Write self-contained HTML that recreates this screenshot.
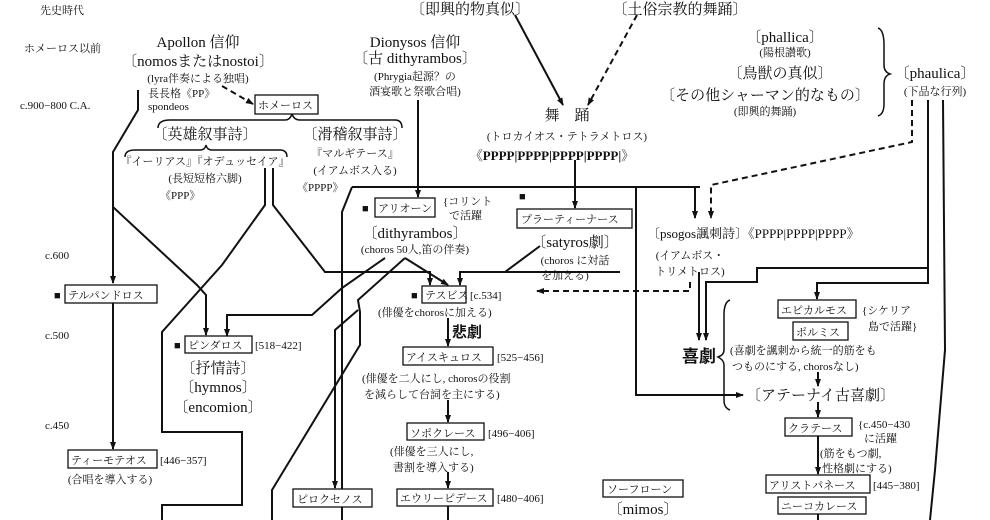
<!DOCTYPE html>
<html><head><meta charset="utf-8"><style>
body{margin:0;background:#fff}
svg{display:block}
text{font-family:"Liberation Serif","Noto Serif CJK SC","Noto Sans CJK JP",serif;fill:#111}
.s{font-size:11px}.m{font-size:13px}.l{font-size:15px}
.b{font-weight:bold;font-family:"Liberation Sans","Noto Sans CJK JP",sans-serif}
</style></head><body>
<svg width="990" height="520" viewBox="0 0 990 520" xmlns="http://www.w3.org/2000/svg">
<defs><marker id="a" markerWidth="8" markerHeight="8" refX="7" refY="4" orient="auto" markerUnits="userSpaceOnUse"><path d="M0,1 L8,4 L0,7z" fill="#111"/></marker></defs>
<g fill="none" stroke="#111" stroke-width="2">
<polyline points="138,90 138,110 113,152 113,283" marker-end="url(#a)"/>
<polyline points="113,303 113,449" marker-end="url(#a)"/>
<polyline points="113,207 197,285 206,295 206,335" marker-end="url(#a)"/>
<polyline points="265,168 265,205 222,265 162,332 162,432 242,432 242,505 162,505 162,520"/>
<polyline points="273,168 273,205 325,272 430,272 430,285" marker-end="url(#a)"/>
<polyline points="418,100 418,197" marker-end="url(#a)"/>
<polyline points="352,187 700,187"/>
<polyline points="695,187 695,218" marker-end="url(#a)"/>
<polyline points="636,187 636,395 743,395" marker-end="url(#a)"/>
<polyline points="352,187 342,212 342,520"/>
<polyline points="385,258 342,288 312,315 227,315 227,336" marker-end="url(#a)"/>
<polyline points="358,310 335,330 335,488" marker-end="url(#a)"/>
<polyline points="405,258 358,300 360,312 360,345 272,490 272,520"/>
<polyline points="405,258 448,285" marker-end="url(#a)"/>
<polyline points="540,246 505,272 460,272 460,285" marker-end="url(#a)"/>
<polyline points="465,272 620,272"/>
<polyline points="515,15 563,105" marker-end="url(#a)"/>
<polyline points="575,160 575,208" marker-end="url(#a)"/>
<polyline points="448,318 448,346" marker-end="url(#a)"/>
<polyline points="448,400 448,422" marker-end="url(#a)"/>
<polyline points="448,472 448,488" marker-end="url(#a)"/>
<polyline points="448,506 448,520"/>
<polyline points="928,100 928,283 817,283 817,299" marker-end="url(#a)"/>
<polyline points="928,268 757,268 757,282 706,282 706,340" marker-end="url(#a)"/>
<polyline points="699,272 699,340" marker-end="url(#a)"/>
<polyline points="943,100 945,350 935,470 930,520"/>
<polyline points="818,372 818,386" marker-end="url(#a)"/>
<polyline points="818,402 818,417" marker-end="url(#a)"/>
<polyline points="818,436 818,474" marker-end="url(#a)"/>
<polyline points="818,514 818,520"/>
<path d="M158,128 Q158,120 170,120 L285,120 Q290,120 292,114 Q294,120 300,120 L395,120 Q402,120 402,128" stroke-width="1.5"/>
<path d="M125,157 Q125,150 135,150 L200,150 Q205,150 206,145 Q207,150 212,150 L280,150 Q287,150 287,157" stroke-width="1.5"/>
<path d="M878,28 Q884,30 884,45 L884,65 Q884,72 890,74 Q884,76 884,84 L884,104 Q884,114 878,116" stroke-width="1.5"/>
<path d="M730,300 Q724,302 724,315 L724,350 Q724,355 718,357 Q724,360 724,365 L724,400 Q724,408 730,410" stroke-width="1.5"/>
</g>
<g fill="none" stroke="#111" stroke-width="2" stroke-dasharray="6,4">
<polyline points="222,86 253,104" marker-end="url(#a)"/>
<polyline points="637,15 588,105" marker-end="url(#a)"/>
<polyline points="912,100 912,142 711,185 711,218" marker-end="url(#a)"/>
<polyline points="690,282 690,291 537,291" marker-end="url(#a)"/>
</g>
<g stroke="#111" stroke-width="1.3" fill="#fff">
<rect x="255" y="95" width="63" height="19"/>
<rect x="375" y="198" width="60" height="19"/>
<rect x="517" y="209" width="115" height="19"/>
<rect x="422" y="286" width="44" height="17"/>
<rect x="403" y="347" width="90" height="18"/>
<rect x="407" y="423" width="77" height="17"/>
<rect x="397" y="489" width="96" height="17"/>
<rect x="293" y="489" width="79" height="18"/>
<rect x="603" y="480" width="80" height="17"/>
<rect x="65" y="285" width="92" height="18"/>
<rect x="185" y="336" width="67" height="17"/>
<rect x="68" y="450" width="89" height="18"/>
<rect x="778" y="300" width="78" height="18"/>
<rect x="793" y="322" width="55" height="18"/>
<rect x="785" y="418" width="67" height="18"/>
<rect x="766" y="475" width="104" height="18"/>
<rect x="778" y="497" width="88" height="17"/>
</g>
<text class="s" x="40" y="14">先史時代</text>
<text class="s" x="24" y="52">ホメーロス以前</text>
<text class="s" x="20" y="109">c.900−800 C.A.</text>
<text class="s" x="45" y="259">c.600</text>
<text class="s" x="45" y="339">c.500</text>
<text class="s" x="45" y="429">c.450</text>
<g text-anchor="middle">
<text class="l" x="198" y="47">Apollon 信仰</text>
<text class="l" x="198" y="66">〔nomosまたはnostoi〕</text>
<text class="s" x="198" y="82">(lyra伴奏による独唱)</text>
<text class="l" x="205" y="139">〔英雄叙事詩〕</text>
<text class="l" x="355" y="139">〔滑稽叙事詩〕</text>
<text class="s" x="355" y="157">『マルギテース』</text>
<text class="s" x="355" y="174">(イアムボス入る)</text>
<text class="s" x="205" y="165">『イーリアス』『オデュッセイア』</text>
<text class="s" x="205" y="182">(長短短格六脚)</text>
<text class="l" x="415" y="47">Dionysos 信仰</text>
<text class="l" x="415" y="63">〔古 dithyrambos〕</text>
<text class="s" x="415" y="80">(Phrygia起源？の</text>
<text class="s" x="415" y="95">酒宴歌と祭歌合唱)</text>
<text class="l" x="470" y="14">〔即興的物真似〕</text>
<text class="l" x="680" y="14">〔土俗宗教的舞踊〕</text>
<text class="l" x="567" y="120">舞　踊</text>
<text class="s" x="567" y="140">(トロカイオス・テトラメトロス)</text>
<text class="m" x="552" y="160" font-weight="bold">《PPPP|PPPP|PPPP|PPPP|》</text>
<text class="l" x="785" y="42">〔phallica〕</text>
<text class="s" x="785" y="56">(陽根讃歌)</text>
<text class="l" x="780" y="78">〔鳥獣の真似〕</text>
<text class="l" x="765" y="100">〔その他シャーマン的なもの〕</text>
<text class="s" x="765" y="115">(即興的舞踊)</text>
<text class="l" x="935" y="78">〔phaulica〕</text>
<text class="s" x="935" y="95">(下品な行列)</text>
<text class="l" x="415" y="238">〔dithyrambos〕</text>
<text class="s" x="415" y="253">(choros 50人,笛の伴奏)</text>
<text class="l" x="575" y="247">〔satyros劇〕</text>
<text class="s" x="575" y="264">(choros に対話</text>
<text class="s" x="565" y="279">を加える)</text>
<text class="s" x="690" y="259">(イアムボス・</text>
<text class="s" x="690" y="275">トリメトロス)</text>
<text class="l" x="218" y="373">〔抒情詩〕</text>
<text class="l" x="218" y="392">〔hymnos〕</text>
<text class="l" x="218" y="412">〔encomion〕</text>
<text class="s" x="110" y="483">(合唱を導入する)</text>
<text class="l" x="643" y="514">〔mimos〕</text>
</g>
<text class="s" x="148" y="97">長長格《PP》</text>
<text class="s" x="148" y="110">spondeos</text>
<text class="s" x="160" y="199">《PPP》</text>
<text class="s" x="297" y="191">《PPPP》</text>
<text class="m" x="647" y="238">〔psogos諷刺詩〕《PPPP|PPPP|PPPP》</text>
<g class="s">
<text x="258" y="109">ホメーロス</text>
<text x="362" y="212">■</text><text x="378" y="212">アリオーン</text>
<text x="443" y="205">{コリント</text><text x="449" y="219">で活躍</text>
<text x="519" y="200">■</text><text x="521" y="223">プラーティーナース</text>
<text x="411" y="299">■</text><text x="425" y="299">テスビス</text><text x="470" y="299">[c.534]</text>
<text x="378" y="316">(俳優をchorosに加える)</text>
<text x="406" y="361">アイスキュロス</text><text x="497" y="361">[525−456]</text>
<text x="362" y="382">(俳優を二人にし, chorosの役割</text>
<text x="364" y="398">を減らして台詞を主にする)</text>
<text x="410" y="437">ソポクレース</text><text x="488" y="437">[496−406]</text>
<text x="390" y="455">(俳優を三人にし,</text>
<text x="393" y="471">書割を導入する)</text>
<text x="400" y="502">エウリーピデース</text><text x="497" y="502">[480−406]</text>
<text x="297" y="503">ピロクセノス</text>
<text x="607" y="493">ソーフローン</text>
<text x="54" y="299">■</text><text x="68" y="299">テルパンドロス</text>
<text x="174" y="349">■</text><text x="188" y="349">ピンダロス</text><text x="255" y="349">[518−422]</text>
<text x="71" y="464">ティーモテオス</text><text x="160" y="464">[446−357]</text>
<text x="781" y="314">エピカルモス</text>
<text x="796" y="336">ポルミス</text>
<text x="862" y="314">{シケリア</text><text x="868" y="330">島で活躍}</text>
<text x="730" y="354">(喜劇を諷刺から統一的筋をも</text>
<text x="732" y="370">つものにする, chorosなし)</text>
<text x="788" y="432">クラテース</text>
<text x="858" y="428">{c.450−430</text><text x="864" y="442">に活躍</text>
<text x="820" y="457">(筋をもつ劇,</text><text x="822" y="472">性格劇にする)</text>
<text x="769" y="489">アリストパネース</text><text x="873" y="489">[445−380]</text>
<text x="781" y="510">ニーコカレース</text>
</g>
<text class="b" x="452" y="337" font-size="15">悲劇</text>
<text class="b" x="682" y="362" font-size="17">喜劇</text>
<text class="l" x="746" y="400">〔アテーナイ古喜劇〕</text>
</svg>
</body></html>
